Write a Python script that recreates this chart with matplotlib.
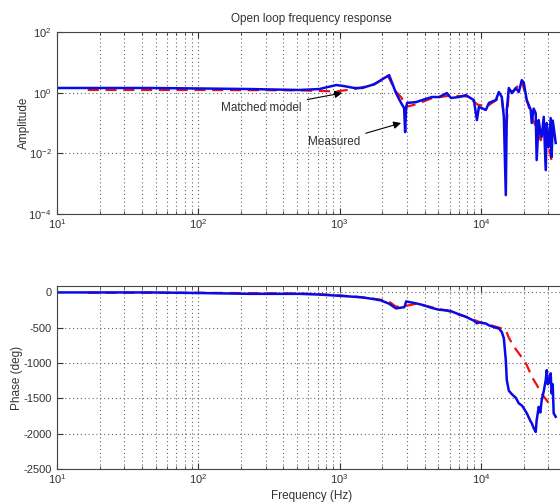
import matplotlib
matplotlib.use("Agg")
import matplotlib.pyplot as plt
from matplotlib.ticker import LogLocator, NullLocator, NullFormatter

plt.rcParams["font.family"] = ["Liberation Sans", "DejaVu Sans"]
plt.rcParams["mathtext.fontset"] = "custom"
plt.rcParams["mathtext.rm"] = "Liberation Sans"
plt.rcParams["mathtext.it"] = "Liberation Sans:italic"
plt.rcParams["axes.unicode_minus"] = False

# Measured response (blue)
meas_freq = [10, 20, 45, 100, 230, 519, 718, 946, 1077, 1267, 1443, 1753, 1960,
             2239, 2506, 2722, 2860, 2906, 2953, 3000, 3475, 3830, 4500, 5050,
             5740, 6130, 6985, 7820, 8910, 9360, 9670, 10830, 11380, 12740,
             13380, 14040, 14520, 14990, 15230, 15740, 16520, 17620, 18530,
             19450, 20090, 21090, 22510, 22870, 23600, 24400, 24780, 25630,
             26300, 26900, 27810, 28730, 29200, 29700, 30140, 31140, 31640,
             32200, 32690, 33790]
meas_amp = [1.43, 1.43, 1.43, 1.38, 1.32, 1.23, 1.32, 1.79, 1.65, 1.43, 1.43,
            1.9, 2.6, 3.8, 0.97, 0.46, 0.31, 0.05, 0.31, 0.46, 0.49, 0.57,
            0.72, 0.72, 0.97, 0.67, 0.72, 0.83, 0.57, 0.125, 0.34, 0.27, 0.46,
            0.57, 1.05, 0.72, 0.16, 0.00042, 0.27, 1.43, 0.97, 1.43, 1.05, 2.6,
            2.1, 0.57, 0.27, 0.1, 0.3, 0.21, 0.006, 0.125, 0.05, 0.035, 0.16,
            0.0028, 0.1, 0.03, 0.016, 0.146, 0.0075, 0.12, 0.074, 0.022]
meas_phase = [0, 0, 0, -8, -20, -20, -30, -45, -52, -62, -70, -95, -113,
              -160, -226, -215, -210, -180, -127, -130, -155, -175, -220,
              -245, -254, -265, -310, -345, -400, -438, -424, -440, -466,
              -500, -510, -560, -650, -960, -1240, -1390, -1440, -1490, -1570,
              -1600, -1640, -1710, -1830, -1850, -1920, -1975, -1810, -1620,
              -1700, -1525, -1400, -1240, -1100, -1300, -1285, -1145, -1430,
              -1300, -1710, -1760]

# Matched model (red dashed)
model_freq = [16.5, 100, 500, 700, 950, 1300, 1750, 2200, 2500, 2750, 2950,
              3500, 4500, 6000, 8000, 9500, 11000, 13000, 14000, 14500, 14750,
              15000, 15230, 15740, 17000, 19450, 21000, 23000, 25000, 26500,
              28000, 30000, 31500, 32700]
model_amp = [1.23, 1.23, 1.2, 1.15, 1.1, 1.35, 1.85, 3.5, 1.1, 0.67, 0.34,
             0.42, 0.66, 0.8, 0.75, 0.4, 0.35, 0.6, 0.7, 0.2, 0.1, 0.03, 0.1,
             1.2, 1.1, 2.5, 0.6, 0.15, 0.06, 0.027, 0.05, 0.02, 0.006, 0.0068]
model_phase = [-5, -5, -15, -25, -40, -60, -90, -120, -200, -205, -190, -160,
               -210, -270, -350, -410, -450, -490, -510, -520, -530, -537,
               -570, -640, -760, -920, -1020, -1200, -1320, -1420, -1480,
               -1560, -1600, -1620]

text_col = "#333333"
grid_style = dict(linestyle=(0, (1, 2.5)), color="#666666", linewidth=0.8)
arrow_style = dict(arrowstyle="-|>", color="k", lw=0.8, mutation_scale=11,
                   shrinkA=2, shrinkB=0)

fig = plt.figure(figsize=(5.6, 5.04), dpi=100)
ax1 = fig.add_axes([0.1018, 0.5754, 0.909, 0.361])
ax2 = fig.add_axes([0.1018, 0.0694, 0.909, 0.363])

for ax in (ax1, ax2):
    ax.set_xscale("log")
    ax.set_xlim(10, 4e4)
    ax.xaxis.set_major_locator(LogLocator(base=10, numticks=10))
    ax.xaxis.set_minor_locator(LogLocator(base=10, subs=range(2, 10), numticks=20))
    ax.xaxis.set_minor_formatter(NullFormatter())
    ax.grid(True, which="both", axis="x", **grid_style)
    ax.grid(True, which="major", axis="y", **grid_style)
    ax.tick_params(which="both", direction="in", top=True, right=True,
                   labelsize=8, color="#333333", labelcolor=text_col)
    ax.tick_params(which="major", length=4)
    ax.tick_params(which="minor", length=2.5)
    ax.tick_params(axis="x", pad=2)
    ax.tick_params(axis="y", pad=4)
    for s in ax.spines.values():
        s.set_color("#444444")
        s.set_linewidth(0.8)

ax1.plot(model_freq, model_amp, color="#ee1111", linestyle=(0, (5, 3)), linewidth=1.6)
ax1.plot(meas_freq, meas_amp, color="#0a0ae6", linewidth=1.8)
ax1.set_yscale("log")
ax1.set_ylim(1e-4, 1e2)
ax1.set_yticks([1e-4, 1e-2, 1, 1e2])
ax1.yaxis.set_minor_locator(NullLocator())
ax1.set_ylabel("Amplitude", fontsize=8.5, color=text_col)
ax1.yaxis.set_label_coords(-0.053, 0.5)
ax1.set_title("Open loop frequency response", fontsize=8.5, color=text_col, pad=7)

ax1.annotate("Matched model", xy=(1043, 0.98), xytext=(540, 0.31),
             fontsize=8.5, color=text_col, ha="right", va="center",
             arrowprops=arrow_style)
ax1.annotate("Measured", xy=(2720, 0.1), xytext=(1400, 0.023),
             fontsize=8.5, color=text_col, ha="right", va="center",
             arrowprops=arrow_style)

ax2.plot(model_freq, model_phase, color="#ee1111", linestyle=(0, (5, 3)), linewidth=1.6)
ax2.plot(meas_freq, meas_phase, color="#0a0ae6", linewidth=1.8)
ax2.set_ylim(-2500, 90)
ax2.set_yticks([0, -500, -1000, -1500, -2000, -2500])
ax2.set_ylabel("Phase (deg)", fontsize=8.5, color=text_col)
ax2.yaxis.set_label_coords(-0.067, 0.5)
ax2.set_xlabel("Frequency (Hz)", fontsize=8.5, color=text_col, labelpad=3)

fig.savefig("out.png", dpi=100)
